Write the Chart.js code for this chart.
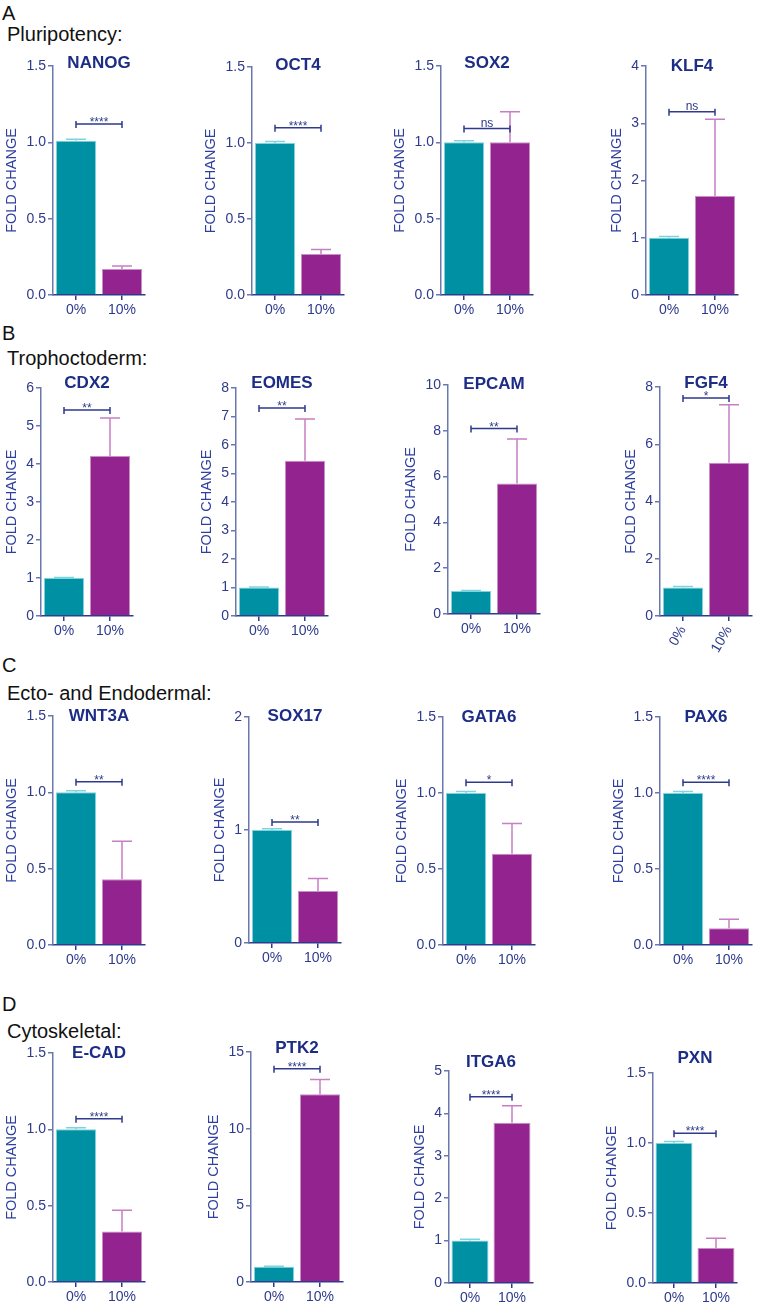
<!DOCTYPE html>
<html><head><meta charset="utf-8">
<script src="https://cdn.jsdelivr.net/npm/chart.js@4.4.1/dist/chart.umd.min.js"></script>
<style>
html,body{margin:0;padding:0;background:#fff;width:763px;height:1305px;overflow:hidden;position:relative;font-family:'Liberation Sans',Arial,Helvetica,sans-serif;}
.lbl{position:absolute;color:#111;font-size:20px;line-height:20px;white-space:nowrap;}
.box{position:absolute;}
</style></head><body>
<div class="lbl" style="left:2px;top:3px;">A</div>
<div class="lbl" style="left:7px;top:24px;">Pluripotency:</div>
<div class="lbl" style="left:2px;top:323px;">B</div>
<div class="lbl" style="left:7px;top:348px;">Trophoctoderm:</div>
<div class="lbl" style="left:2px;top:655px;">C</div>
<div class="lbl" style="left:7px;top:683px;">Ecto- and Endodermal:</div>
<div class="lbl" style="left:2px;top:994px;">D</div>
<div class="lbl" style="left:7px;top:1021px;">Cytoskeletal:</div>
<script>
// ---------- data ----------
const genes = ['NANOG','OCT4','SOX2','KLF4','CDX2','EOMES','EPCAM','FGF4','WNT3A','SOX17','GATA6','PAX6','E-CAD','PTK2','ITGA6','PXN'];
const doses = ['0%','10%'];
const ctrl       = [1.01,1.00,1.00,1.00, 1.00,1.00,1.00,1.00, 1.00,1.00,1.00,1.00, 1.00,1.00,1.00,1.00];
const ctrlErr    = [0.01,0.01,0.01,0.02, 0.01,0.02,0.03,0.03, 0.01,0.01,0.01,0.01, 0.01,0.02,0.03,0.01];
const treated    = [0.17,0.27,1.00,1.73, 4.21,5.45,5.70,5.35, 0.43,0.46,0.60,0.11, 0.33,12.25,3.78,0.25];
const treatedErr = [0.02,0.03,0.20,1.34, 1.00,1.46,1.94,2.03, 0.25,0.11,0.20,0.06, 0.14,0.95,0.40,0.07];
const sigText    = ['****','****','ns','ns','**','**','**','*','**','**','*','****','****','****','****','****'];
const sigLevel   = [1.12,1.10,1.09,3.2, 5.42,7.3,8.1,7.62, 1.07,1.07,1.07,1.07, 1.07,13.9,4.39,1.07];
const yMax       = [1.5,1.5,1.5,4, 6,8,10,8, 1.5,2,1.5,1.5, 1.5,15,5,1.5];
const yStep      = [0.5,0.5,0.5,1, 1,1,2,2, 0.5,1,0.5,0.5, 0.5,5,1,0.5];

// ---------- layout / style ----------
const layout = [
 {x:53, top:66, bottom:295, w:92, t:-3},
 {x:252,top:67, bottom:295, w:92, t:-2},
 {x:441,top:66, bottom:295, w:92, t:-3},
 {x:646,top:66, bottom:295, w:92, t:0},
 {x:41, top:388,bottom:616, w:92, t:-5},
 {x:236,top:388,bottom:616, w:92, t:-5},
 {x:448,top:385,bottom:614, w:92, t:-1},
 {x:660,top:387,bottom:616, w:92, t:-4, rot:60},
 {x:53, top:716,bottom:945, w:92, t:0},
 {x:249,top:717,bottom:943, w:92, t:-1},
 {x:443,top:717,bottom:945, w:92, t:0},
 {x:660,top:717,bottom:945, w:92, t:0},
 {x:53, top:1053,bottom:1282,w:92, t:0},
 {x:251,top:1052,bottom:1282,w:92, t:-4},
 {x:449,top:1071,bottom:1283,w:84, t:-9},
 {x:653,top:1073,bottom:1283,w:84, t:-15}
];
const FONT = "'Liberation Sans', Arial, Helvetica, sans-serif";
const TEAL='#0090a4', PURPLE='#93238e';
const TEAL_EDGE='#7fd3dc', PURPLE_EDGE='#c890c4';
const TEAL_ERR='#7fd3dc', PURPLE_ERR='#c77fc4';
const TICK='#2e3a8c', TITLE='#1d2d86', AXY='#6b78b0', AXX='#2e3a8c', YTITLE='#2e3f9e', BRK='#2e3a8c';

function panelPlugin(i){
  return {
    id:'panel'+i,
    afterDatasetsDraw(chart){
      const ctx=chart.ctx, xs=chart.scales.x, ys=chart.scales.y, ca=chart.chartArea;
      const meta=chart.getDatasetMeta(0);
      ctx.save();
      // error bars
      [[ctrl[i],ctrlErr[i],TEAL_ERR],[treated[i],treatedErr[i],PURPLE_ERR]].forEach(([v,e,c],k)=>{
        const x=meta.data[k].x, y0=ys.getPixelForValue(v), y1=ys.getPixelForValue(v+e);
        ctx.strokeStyle=c; ctx.lineWidth=1.5;
        ctx.beginPath(); ctx.moveTo(x,y0); ctx.lineTo(x,y1);
        ctx.moveTo(x-10,y1); ctx.lineTo(x+10,y1); ctx.stroke();
      });
      // significance bracket
      const x0=xs.getPixelForValue(0), x1=xs.getPixelForValue(1), yb=ys.getPixelForValue(sigLevel[i]);
      ctx.strokeStyle=BRK; ctx.lineWidth=1.5;
      ctx.beginPath();
      ctx.moveTo(x0,yb); ctx.lineTo(x1,yb);
      ctx.moveTo(x0,yb-3); ctx.lineTo(x0,yb+4);
      ctx.moveTo(x1,yb-3); ctx.lineTo(x1,yb+4);
      ctx.stroke();
      ctx.fillStyle=BRK; ctx.textAlign='center'; ctx.textBaseline='alphabetic';
      if(sigText[i]==='ns'){ ctx.font='12px '+FONT; ctx.fillText('ns',(x0+x1)/2,yb-2); }
      else { ctx.font='12px '+FONT; ctx.fillText(sigText[i],(x0+x1)/2,yb+2); }
      // gene title
      ctx.fillStyle=TITLE; ctx.font='bold 17px '+FONT; ctx.textBaseline='middle';
      ctx.fillText(genes[i],(ca.left+ca.right)/2,ca.top+layout[i].t);
      ctx.restore();
    }
  };
}

function makePanel(i){
  const L=layout[i];
  const PT=40, XH=42, PR=12, YL=70;
  const plotH=L.bottom-L.top;
  const W=YL+L.w+PR, H=PT+plotH+XH;
  const div=document.createElement('div'); div.className='box';
  div.style.left=(L.x-YL)+'px'; div.style.top=(L.top-PT)+'px';
  div.style.width=W+'px'; div.style.height=H+'px';
  const cv=document.createElement('canvas');
  cv.width=W; cv.height=H; cv.style.width=W+'px'; cv.style.height=H+'px';
  div.appendChild(cv); document.body.appendChild(div);
  const dec=yStep[i]<1?1:0;
  const rot=L.rot||0;
  const chart=new Chart(cv,{
    type:'bar',
    data:{labels:doses,datasets:[{
      data:[ctrl[i],treated[i]],
      backgroundColor:[TEAL,PURPLE],
      borderColor:[TEAL_EDGE,PURPLE_EDGE],
      borderWidth:1, borderSkipped:'bottom',
      barPercentage:L.w<90?0.88:0.87, categoryPercentage:1
    }]},
    options:{
      responsive:false, maintainAspectRatio:false, animation:false,
      layout:{padding:{top:PT,right:PR,bottom:0,left:0}},
      plugins:{legend:{display:false},tooltip:{enabled:false},title:{display:false}},
      scales:{
        x:{type:'category',offset:true,
           grid:{display:true,offset:false,drawOnChartArea:false,drawTicks:true,tickLength:5,color:AXX,lineWidth:1.5},
           border:{display:true,color:AXX,width:1.5},
           ticks:{color:TICK,font:{size:14,family:FONT},padding:2,minRotation:rot,maxRotation:rot,autoSkip:false},
           afterFit:s=>{s.height=XH;}
        },
        y:{min:0,max:yMax[i],
           ticks:{stepSize:yStep[i],color:TICK,font:{size:14,family:FONT},padding:2,callback:v=>Number(v).toFixed(dec)},
           grid:{display:true,drawOnChartArea:false,drawTicks:true,tickLength:5,color:AXY,lineWidth:1.5},
           border:{display:true,color:AXY,width:1.5},
           title:{display:true,text:'FOLD CHANGE',color:YTITLE,font:{size:14.5,family:FONT},padding:{top:4,bottom:4}}
        }
      }
    },
    plugins:[panelPlugin(i)]
  });
  const yw=chart.scales.y.width;
  chart.options.layout.padding.left=Math.max(0,YL-yw);
  chart.update('none');
}
genes.forEach((g,i)=>makePanel(i));
</script>
</body></html>
